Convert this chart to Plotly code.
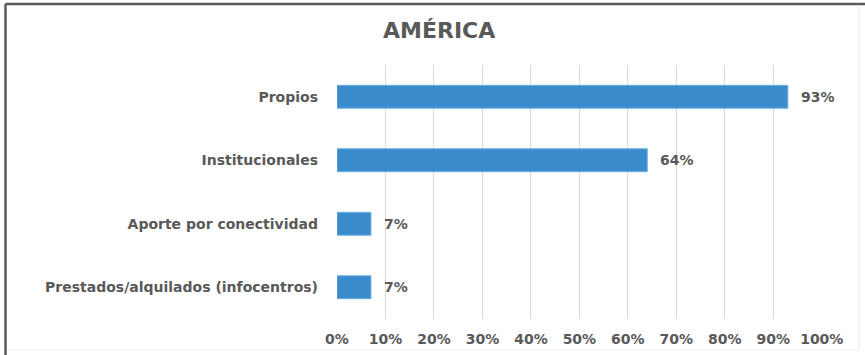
import plotly.graph_objects as go

categories = ["Propios", "Institucionales", "Aporte por conectividad", "Prestados/alquilados (infocentros)"]
values = [0.93, 0.64, 0.07, 0.07]
value_labels = ["93%", "64%", "7%", "7%"]
tick_vals = [0, 0.1, 0.2, 0.3, 0.4, 0.5, 0.6, 0.7, 0.8, 0.9, 1.0]
tick_text = ["0%", "10%", "20%", "30%", "40%", "50%", "60%", "70%", "80%", "90%", "100%"]
title_text = "AMÉRICA"

W, H = 865, 355
ML, MR, MT, MB = 337, 43, 65, 36
GRAY = "#595959"
FONT = "DejaVu Sans"

fig = go.Figure()
fig.add_trace(go.Bar(
    y=categories, x=values, orientation="h",
    marker=dict(color="#3a8bcb", line=dict(color="#6aaee0", width=1)),
    width=0.36, hoverinfo="skip",
))

for c, v, t in zip(categories, values, value_labels):
    fig.add_annotation(x=v, y=c, text=t, showarrow=False, xanchor="left",
                       xshift=11, font=dict(family=FONT, size=14, color=GRAY, weight="bold"))

pw, ph = W - ML - MR, H - MT - MB
def px(x):
    return (x - ML) / pw
def py(y):
    return 1 - (y - MT) / ph

fig.add_annotation(text=title_text, xref="paper", yref="paper",
                   x=px(439), y=py(30),
                   xanchor="center", yanchor="middle", showarrow=False,
                   font=dict(family=FONT, size=22, color=GRAY, weight="bold"))

fig.add_shape(type="line", xref="paper", yref="paper", x0=px(5.5), x1=px(865), y0=py(4), y1=py(4),
              line=dict(color="#5a5a5a", width=2.5))
fig.add_shape(type="line", xref="paper", yref="paper", x0=px(5.5), x1=px(5.5), y0=py(4), y1=py(355),
              line=dict(color="#5a5a5a", width=2.5))
fig.add_shape(type="line", xref="paper", yref="paper", x0=px(859), x1=px(859), y0=py(5), y1=py(350),
              line=dict(color="#e6e6e6", width=1))
fig.add_shape(type="line", xref="paper", yref="paper", x0=px(7), x1=px(859), y0=py(350), y1=py(350),
              line=dict(color="#ececec", width=1))

fig.update_layout(
    width=W, height=H,
    margin=dict(l=ML, r=MR, t=MT, b=MB),
    paper_bgcolor="white", plot_bgcolor="white",
    showlegend=False,
    font=dict(family=FONT, color=GRAY),
    xaxis=dict(range=[0, 1.0005], tickvals=tick_vals, ticktext=tick_text,
               showgrid=True, gridcolor="#d9d9d9", gridwidth=1, zeroline=False,
               showline=False, ticks="", ticklabelstandoff=10, automargin=False,
               tickfont=dict(family=FONT, size=14, color=GRAY, weight="bold")),
    yaxis=dict(categoryorder="array", categoryarray=categories[::-1],
               showgrid=False, zeroline=False, showline=False, ticks="",
               ticklabelstandoff=18, automargin=False,
               tickfont=dict(family=FONT, size=14, color=GRAY, weight="bold")),
)

fig.write_html("out.html", config={"displayModeBar": False},
               post_script="document.body.style.margin='0px';document.body.style.overflow='hidden';")
